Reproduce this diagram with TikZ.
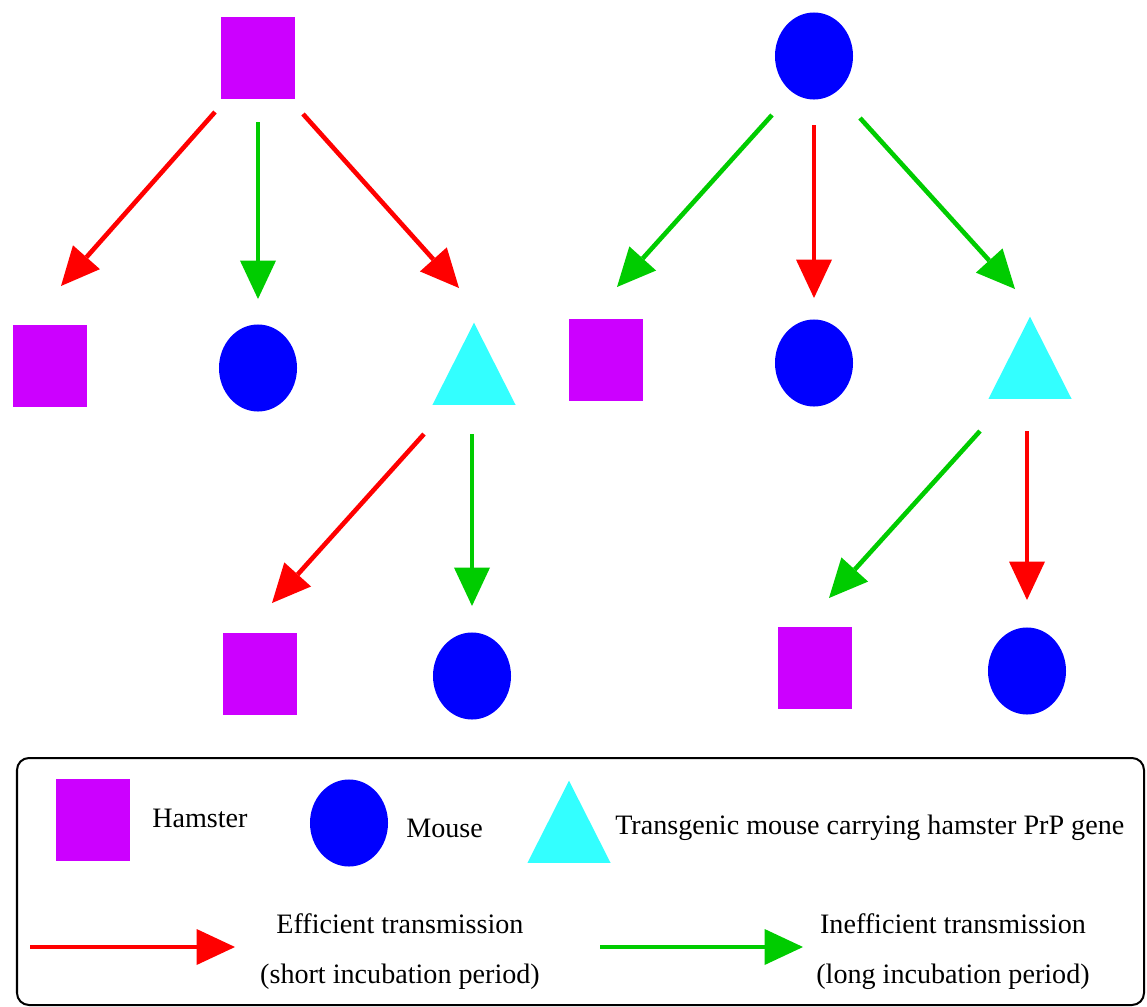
\documentclass[tikz,border=0pt]{standalone}
\usepackage{fontspec}
\setmainfont{Liberation Serif}
\usetikzlibrary{
    arrows.meta,
    positioning,
    calc,
    shapes.geometric
}
\definecolor{hamsterPurple}{RGB}{204,0,255}
\definecolor{mouseBlue}{RGB}{0,0,255}
\definecolor{tgCyan}{RGB}{51,255,255}
\definecolor{effRed}{RGB}{255,0,0}
\definecolor{ineffGreen}{RGB}{0,204,0}
\tikzset{
  hamster/.style = {rectangle, fill=hamsterPurple, inner sep=0pt,
                    minimum width=1.85cm, minimum height=2.025cm},
  mouse/.style   = {ellipse, fill=mouseBlue, inner sep=0pt,
                    minimum width=1.95cm, minimum height=2.175cm},
  tgmouse/.style = {isosceles triangle, isosceles triangle stretches,
                    shape border rotate=90, fill=tgCyan, inner sep=0pt,
                    minimum width=2.075cm, minimum height=2.05cm},
  legtext/.style = {inner sep=0pt, font=\fontsize{20}{35.5}\selectfont}
}

\begin{document}
\begin{tikzpicture}[
  x=0.025cm, y=-0.025cm,
  eff/.style={
    -{Triangle[length=0.96cm, width=0.9cm, line width=0pt]},
    line width=0.115cm,
    effRed
  },
  ineff/.style={
    -{Triangle[length=0.96cm, width=0.9cm, line width=0pt]},
    line width=0.115cm,
    ineffGreen
  },
  legbox/.style={
    draw=black,
    line width=0.05cm,
    rounded corners=0.3cm
  }
]
\useasboundingbox (0,0) rectangle (1147,1007);

%% --- Hamster source ---
\node[hamster] (H0) at (258,58) {};
\node[hamster] (H1) at (50,366) {};
\node[mouse] (M1) at (258,368) {};
\node[tgmouse, anchor=apex] (T1) at (474,322) {};
\node[hamster] (H2) at (260,674) {};
\node[mouse] (M2) at (472,676) {};

%% --- Mouse source ---
\node[mouse] (M0) at (814,56) {};
\node[hamster] (H3) at (606,360) {};
\node[mouse] (M3) at (814,363) {};
\node[tgmouse, anchor=apex] (T3) at (1030,316) {};
\node[hamster] (H4) at (815,668) {};
\node[mouse] (M4) at (1027,671) {};

%% --- Hamster source arrows ---
\draw[eff]   ($(H0)+(-43,54)$) -- ($(H1)+(11,-80)$);
\draw[ineff] ($(H0)+(0,64)$)   -- ($(M1)+(0,-69)$);
\draw[eff]   ($(H0)+(45,56)$)  -- ($(T1.apex)+(-15,-34)$);
\draw[eff]   ($(T1.lower side)+(-50,29)$) -- ($(H2)+(12,-71)$);
\draw[ineff] ($(T1.lower side)+(-2,29)$)  -- ($(M2)+(0,-70)$);

%% --- Mouse source arrows ---
\draw[ineff] ($(M0)+(-42,59)$) -- ($(H3)+(11,-73)$);
\draw[eff]   ($(M0)+(0,69)$)   -- ($(M3)+(0,-65)$);
\draw[ineff] ($(M0)+(46,62)$)  -- ($(T3.apex)+(-15,-27)$);
\draw[ineff] ($(T3.lower side)+(-50,32)$) -- ($(H4)+(14,-70)$);
\draw[eff]   ($(T3.lower side)+(-3,32)$)  -- ($(M4)+(0,-71)$);

%% --- Legend ---
\draw[legbox] (17,758) rectangle (1144,1005);

\node[hamster] (LH) at (93,820) {};
\node[legtext, anchor=west] (LHtext) at (152,818) {Hamster};
\node[mouse] (LM) at (349,823) {};
\node[legtext, anchor=west] (LMtext) at (406,828) {Mouse};
\node[tgmouse, anchor=apex] (LT) at (569,780) {};
\node[legtext, anchor=west] (LTtext) at (615,828)
  {Transgenic mouse carrying hamster PrP gene};

\coordinate (effA) at (30,947);
\coordinate (effB) at (235,947);
\draw[eff] (effA) -- (effB);
\node[legtext, align=center] (efftext) at (400,952)
  {Efficient transmission\\(short incubation period)};

\coordinate (ineffA) at (600,947);
\coordinate (ineffB) at (803,947);
\draw[ineff] (ineffA) -- (ineffB);
\node[legtext, align=center] (innefftext) at (953,952)
  {Inefficient transmission\\(long incubation period)};

\end{tikzpicture}
\end{document}
